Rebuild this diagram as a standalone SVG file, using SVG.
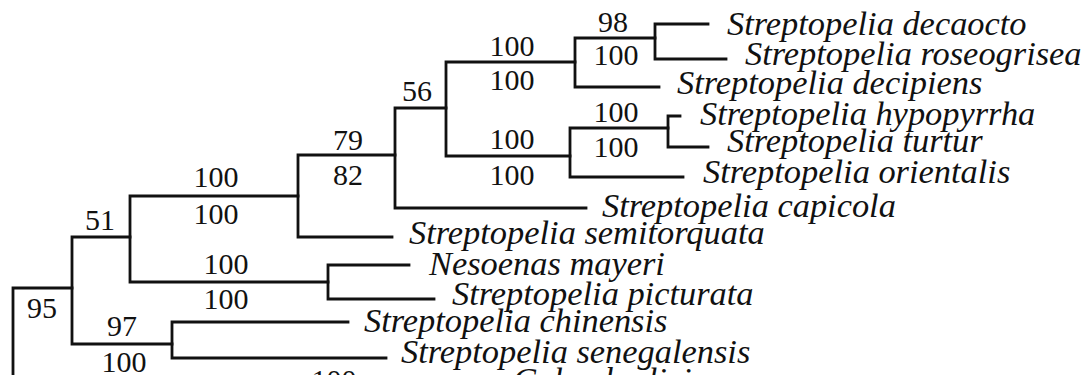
<svg xmlns="http://www.w3.org/2000/svg" width="1092" height="375" viewBox="0 0 1092 375">
  <style>
    .br { fill: none; stroke: #111; stroke-width: 2.8; stroke-linecap: square; }
    .sp { font-family: "Liberation Serif", "Times New Roman", serif; font-style: italic; font-size: 34.4px; fill: #111; }
    .bs { font-family: "Liberation Serif", "Times New Roman", serif; font-size: 30px; fill: #111; text-anchor: middle; }
  </style>
  <rect width="1092" height="375" fill="#fff"/>

  <!-- branches of the tree -->
  <g id="connectors" class="br">
    <!-- root -->
    <path d="M13 400 V288 H72"/>
    <!-- node A -->
    <path d="M130 237 H72 V344 H172"/>
    <!-- node B -->
    <path d="M298 196 H130 V282 H328"/>
    <!-- node C -->
    <path d="M395 155 H298 V237 H392"/>
    <!-- node D -->
    <path d="M446 108 H395 V208 H586"/>
    <!-- node E -->
    <path d="M575 62 H446 V156 H570"/>
    <!-- node F -->
    <path d="M655 38 H575 V87 H659"/>
    <!-- node G -->
    <path d="M708 24 H655 V59 H726"/>
    <!-- node H -->
    <path d="M668 128 H570 V177 H683"/>
    <!-- node I -->
    <path d="M680 116 H668 V147 H708"/>
    <!-- node J -->
    <path d="M409 265 H328 V299 H434"/>
    <!-- node K -->
    <path d="M348 322 H172 V358 H386"/>
  </g>

  <!-- support values -->
  <g id="support">
    <text class="bs" x="42" y="318">95</text>
    <text class="bs" x="100" y="230">51</text>
    <text class="bs" x="122" y="336">97</text>
    <text class="bs" x="124" y="372">100</text>
    <text class="bs" x="216" y="187">100</text>
    <text class="bs" x="216" y="224">100</text>
    <text class="bs" x="226" y="274">100</text>
    <text class="bs" x="226" y="309">100</text>
    <text class="bs" x="348" y="150">79</text>
    <text class="bs" x="348" y="185">82</text>
    <text class="bs" x="417" y="101">56</text>
    <text class="bs" x="512" y="56">100</text>
    <text class="bs" x="512" y="90">100</text>
    <text class="bs" x="512" y="149">100</text>
    <text class="bs" x="512" y="185">100</text>
    <text class="bs" x="613" y="32">98</text>
    <text class="bs" x="616" y="65">100</text>
    <text class="bs" x="616" y="122">100</text>
    <text class="bs" x="616" y="157">100</text>
    <text class="bs" x="334" y="390">100</text>
  </g>

  <!-- terminal taxa -->
  <g id="taxon-decaocto"><text class="sp" x="727" y="35">Streptopelia decaocto</text></g>
  <g id="taxon-roseogrisea"><text class="sp" x="745" y="65">Streptopelia roseogrisea</text></g>
  <g id="taxon-decipiens"><text class="sp" x="677" y="94">Streptopelia decipiens</text></g>
  <g id="taxon-hypopyrrha"><text class="sp" x="700" y="125">Streptopelia hypopyrrha</text></g>
  <g id="taxon-turtur"><text class="sp" x="727" y="152">Streptopelia turtur</text></g>
  <g id="taxon-orientalis"><text class="sp" x="703" y="183">Streptopelia orientalis</text></g>
  <g id="taxon-capicola"><text class="sp" x="602" y="217">Streptopelia capicola</text></g>
  <g id="taxon-semitorquata"><text class="sp" x="409" y="244">Streptopelia semitorquata</text></g>
  <g id="taxon-mayeri"><text class="sp" x="429" y="275">Nesoenas mayeri</text></g>
  <g id="taxon-picturata"><text class="sp" x="452" y="305">Streptopelia picturata</text></g>
  <g id="taxon-chinensis"><text class="sp" x="364" y="332">Streptopelia chinensis</text></g>
  <g id="taxon-senegalensis"><text class="sp" x="401" y="363">Streptopelia senegalensis</text></g>
  <g id="taxon-columba"><text class="sp" x="513" y="391">Columba livia</text></g>
</svg>
